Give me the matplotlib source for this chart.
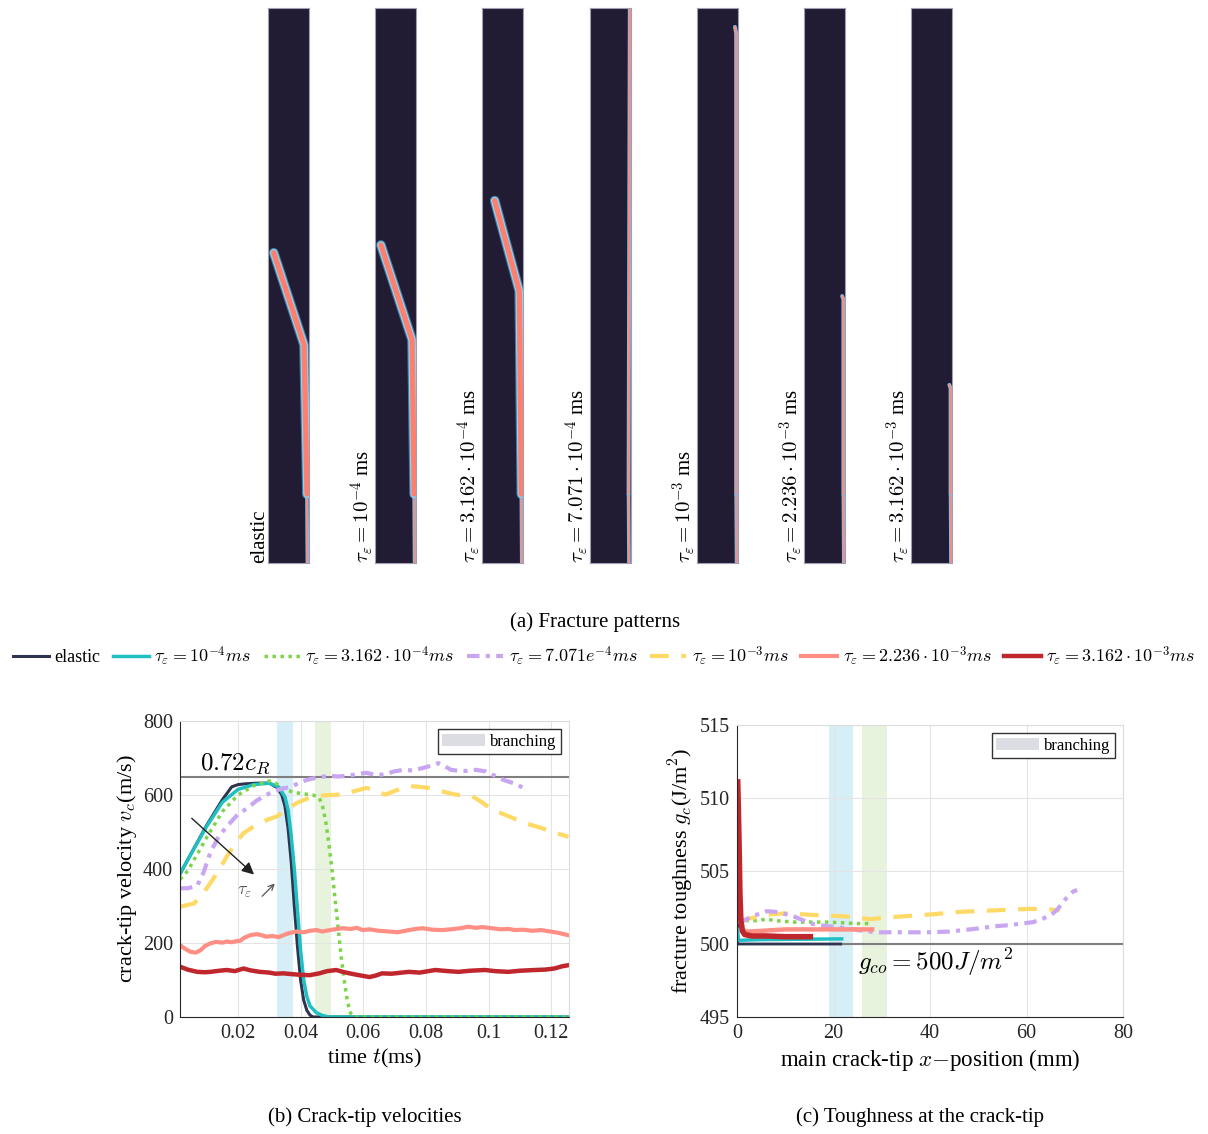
import matplotlib.pyplot as plt
from matplotlib.patches import Patch

plt.rcParams['font.family'] = 'serif'
plt.rcParams['font.serif'] = ['Liberation Serif', 'DejaVu Serif']
plt.rcParams['mathtext.fontset'] = 'cm'

# --- (a) fracture patterns: crack paths in strip-normalised coordinates ---
strip_labels = ['elastic',
                r'$\tau_\varepsilon = 10^{-4}$ ms',
                r'$\tau_\varepsilon = 3.162\cdot10^{-4}$ ms',
                r'$\tau_\varepsilon = 7.071\cdot10^{-4}$ ms',
                r'$\tau_\varepsilon = 10^{-3}$ ms',
                r'$\tau_\varepsilon = 2.236\cdot10^{-3}$ ms',
                r'$\tau_\varepsilon = 3.162\cdot10^{-3}$ ms']
crack_x = [[0.96, 0.95, 0.88, 0.14],
           [0.96, 0.95, 0.90, 0.14],
           [0.96, 0.95, 0.90, 0.30],
           [0.96, 0.95, 0.98],
           [0.97, 0.96, 0.96, 0.93],
           [0.97, 0.96, 0.96, 0.93],
           [0.97, 0.96, 0.96, 0.93]]
crack_y = [[0.0, 0.124, 0.393, 0.559],
           [0.0, 0.124, 0.402, 0.573],
           [0.0, 0.124, 0.490, 0.653],
           [0.0, 0.124, 1.0],
           [0.0, 0.124, 0.955, 0.966],
           [0.0, 0.124, 0.475, 0.481],
           [0.0, 0.124, 0.315, 0.321]]
branched = [True, True, True, False, False, False, False]

# --- series names / styles ---
series_labels = ['elastic',
                 r'$\tau_\varepsilon = 10^{-4}ms$',
                 r'$\tau_\varepsilon = 3.162\cdot10^{-4}ms$',
                 r'$\tau_\varepsilon = 7.071e^{-4}ms$',
                 r'$\tau_\varepsilon = 10^{-3}ms$',
                 r'$\tau_\varepsilon = 2.236\cdot10^{-3}ms$',
                 r'$\tau_\varepsilon = 3.162\cdot10^{-3}ms$']
colors = ['#2f3550', '#1fbfc4', '#7dd44a', '#c9a6f2', '#ffd966', '#ff8f85', '#c0272d']
styles = ['-', '-', (0, (1, 1.3)), (0, (3, 1.5, 1, 1.5)), (0, (4.5, 3)), '-', '-']
widths_b = [2.2, 2.5, 2.5, 3.0, 3.0, 3.0, 3.2]
widths_c = [2.0, 2.5, 2.5, 3.0, 3.0, 3.2, 4.0]

# --- (b) crack-tip velocity vs time ---
t_el = [0.0015, 0.005, 0.01, 0.015, 0.018, 0.02, 0.022, 0.026, 0.030, 0.0325, 0.034, 0.035,
        0.036, 0.037, 0.038, 0.039, 0.040, 0.041, 0.042, 0.043, 0.044, 0.1255]
v_el = [386, 441, 518, 587, 622, 628, 630, 632, 632, 620, 600, 570,
        510, 420, 300, 190, 100, 45, 18, 5, 0, 0]
t_1 = [0.0015, 0.005, 0.01, 0.015, 0.02, 0.025, 0.03, 0.033, 0.035, 0.036, 0.037,
       0.038, 0.039, 0.040, 0.041, 0.042, 0.043, 0.045, 0.047, 0.049, 0.1255]
v_1 = [388, 440, 515, 580, 615, 628, 632, 622, 595, 560, 490,
       400, 290, 180, 100, 55, 30, 12, 4, 0, 0]
t_2 = [0.0015, 0.004, 0.007, 0.01, 0.015, 0.02, 0.025, 0.03, 0.032, 0.035, 0.038, 0.041,
       0.044, 0.046, 0.047, 0.048, 0.049, 0.050, 0.051, 0.052, 0.053, 0.054, 0.055,
       0.056, 0.057, 0.1255]
v_2 = [372, 395, 440, 485, 555, 600, 625, 638, 632, 615, 607, 603,
       600, 592, 570, 530, 470, 400, 320, 240, 160, 95, 40,
       10, 0, 0]
t_3 = [0.0015, 0.004, 0.007, 0.009, 0.0112, 0.014, 0.017, 0.0197, 0.023, 0.026, 0.029,
       0.032, 0.0345, 0.037, 0.040, 0.043, 0.046, 0.049, 0.052, 0.055, 0.058, 0.061,
       0.064, 0.067, 0.070, 0.073, 0.076, 0.079, 0.082, 0.084, 0.086, 0.088, 0.090,
       0.093, 0.096, 0.099, 0.102, 0.105, 0.108, 0.1115]
v_3 = [348, 348, 355, 390, 445, 490, 520, 545, 565, 585, 600,
       612, 618, 622, 635, 643, 648, 652, 650, 652, 656, 660,
       654, 656, 664, 668, 666, 673, 680, 686, 678, 668, 666,
       665, 668, 664, 652, 640, 632, 618]
t_4 = [0.0015, 0.006, 0.0085, 0.0112, 0.014, 0.0165, 0.019, 0.0218, 0.0245, 0.027,
       0.0297, 0.0324, 0.0355, 0.0387, 0.042, 0.045, 0.049, 0.0535, 0.057, 0.061,
       0.064, 0.067, 0.071, 0.0746, 0.078, 0.081, 0.085, 0.0894, 0.0947, 0.098,
       0.101, 0.1063, 0.1116, 0.1168, 0.1205, 0.1255]
v_4 = [298, 307, 330, 362, 398, 434, 468, 497, 512, 524,
       534, 542, 560, 578, 590, 597, 600, 601, 610, 619,
       612, 601, 614, 624, 622, 619, 610, 601, 597, 580,
       561, 543, 524, 511, 500, 487]
t_5 = [0.0015, 0.003, 0.0049, 0.0065, 0.008, 0.0095, 0.0112, 0.013, 0.015, 0.0165,
       0.018, 0.0195, 0.0207, 0.022, 0.0239, 0.026, 0.028, 0.029, 0.031, 0.033,
       0.0345, 0.036, 0.0387, 0.041, 0.043, 0.045, 0.047, 0.050, 0.0535, 0.056,
       0.058, 0.0598, 0.062, 0.065, 0.0683, 0.071, 0.074, 0.0767, 0.079, 0.082,
       0.0852, 0.088, 0.091, 0.0936, 0.096, 0.098, 0.101, 0.104, 0.1065, 0.1084,
       0.111, 0.114, 0.1168, 0.119, 0.122, 0.1255]
v_5 = [194, 185, 176, 174, 180, 192, 199, 203, 201, 204,
       202, 205, 206, 214, 221, 224, 220, 217, 219, 216,
       221, 226, 231, 229, 233, 235, 231, 236, 240, 238,
       241, 235, 237, 233, 231, 229, 234, 238, 240, 236,
       235, 237, 240, 244, 241, 243, 240, 237, 238, 235,
       236, 233, 235, 232, 228, 221]
t_6 = [0.0015, 0.004, 0.007, 0.0095, 0.0112, 0.014, 0.0165, 0.019, 0.0218, 0.024,
       0.027, 0.030, 0.032, 0.0345, 0.037, 0.040, 0.0429, 0.046, 0.0485, 0.0514,
       0.0535, 0.0556, 0.058, 0.062, 0.064, 0.066, 0.069, 0.0746, 0.078, 0.083,
       0.087, 0.0904, 0.094, 0.0989, 0.102, 0.1063, 0.110, 0.1147, 0.118, 0.121,
       0.1235, 0.1255]
v_6 = [136, 128, 122, 121, 122, 125, 127, 124, 131, 126,
       122, 120, 117, 118, 116, 114, 113, 118, 124, 127,
       122, 118, 114, 108, 112, 118, 117, 122, 120, 127,
       124, 122, 125, 127, 124, 122, 125, 127, 128, 131,
       137, 140]
times = [t_el, t_1, t_2, t_3, t_4, t_5, t_6]
velocities = [v_el, v_1, v_2, v_3, v_4, v_5, v_6]
v_ref = 650            # 0.72 c_R
t_branch = [(0.0324, 0.0375), (0.0446, 0.0497)]

# --- (c) toughness at the crack tip vs crack-tip position ---
x_el = [0.05, 0.15, 21.5]
g_el = [504.5, 500.0, 500.0]
x_1 = [0.1, 0.3, 5, 21.7]
g_1 = [501.0, 500.25, 500.3, 500.35]
x_2 = [0.3, 2, 4, 6.2, 8, 11.7, 15, 18.6, 22, 25, 27.6]
g_2 = [501.9, 501.6, 501.6, 501.7, 501.6, 501.5, 501.5, 501.5, 501.45, 501.4, 501.4]
x_3 = [0.3, 2, 4, 6.2, 8, 10, 11.7, 13.5, 15.2, 18, 22.1, 25, 29, 34, 39.3, 44, 49.7,
       53, 56.6, 59, 61.4, 63.5, 65.5, 66.5, 67.6, 68.7, 69.7, 70.5]
g_3 = [501.4, 501.7, 502.0, 502.25, 502.2, 502.05, 501.9, 501.65, 501.4, 501.25, 501.1,
       500.95, 500.8, 500.8, 500.8, 500.85, 501.05, 501.2, 501.3, 501.4, 501.5, 501.75,
       502.1, 502.4, 502.9, 503.3, 503.6, 503.7]
x_4 = [0.3, 2, 4.8, 7.5, 10.3, 15.2, 22.1, 27.6, 32.4, 39.3, 46.2, 53.1, 60, 64, 66.9]
g_4 = [501.5, 501.7, 501.9, 502.05, 502.1, 502.0, 501.9, 501.7, 501.85, 502.0, 502.2,
       502.3, 502.4, 502.4, 502.3]
x_5 = [0.3, 0.5, 0.8, 1.2, 2, 5, 10, 15, 20, 28]
g_5 = [507.5, 504.0, 501.8, 501.0, 500.85, 500.9, 501.0, 501.0, 501.0, 501.0]
x_6 = [0.15, 0.3, 0.45, 0.6, 0.8, 1.1, 1.6, 3, 6, 10, 15.2]
g_6 = [511.1, 509.0, 506.5, 503.5, 501.6, 500.9, 500.65, 500.55, 500.55, 500.5, 500.5]
positions = [x_el, x_1, x_2, x_3, x_4, x_5, x_6]
toughness = [g_el, g_1, g_2, g_3, g_4, g_5, g_6]
g_ref = 500
x_branch = [(19.0, 24.0), (26.0, 31.0)]

band_colors = ['#d6eef6', '#e7f3dd']
W, H = 1208, 1134

fig = plt.figure(figsize=(W / 100, H / 100), dpi=100)

# strips of panel (a)
for i in range(7):
    left = 268 + 107.2 * i
    ax = fig.add_axes([left / W, 1 - 563 / H, 41 / W, 555 / H])
    ax.set_facecolor('#211b33')
    ax.set_xlim(0, 1)
    ax.set_ylim(0, 1)
    ax.set_xticks([])
    ax.set_yticks([])
    for s in ax.spines.values():
        s.set_color('#a09eb0')
        s.set_linewidth(0.8)
    cx, cy = crack_x[i], crack_y[i]
    # lower straight part along the edge
    ax.plot(cx[:2], cy[:2], color='#6cc6f2', lw=2.6, solid_capstyle='butt')
    ax.plot(cx[:2], cy[:2], color='#ff8a7a', lw=1.4, solid_capstyle='butt')
    if branched[i]:
        ax.plot(cx[1:], cy[1:], color='#5fb8e8', lw=7.0, alpha=0.6, solid_capstyle='round')
        ax.plot(cx[1:], cy[1:], color='#8ed8f6', lw=5.4, solid_capstyle='round')
        ax.plot(cx[1:], cy[1:], color='#ff7f6e', lw=3.8, solid_capstyle='round')
    else:
        ax.plot(cx[1:], cy[1:], color='#6cc6f2', lw=2.8, solid_capstyle='round')
        ax.plot(cx[1:], cy[1:], color='#ff8a7a', lw=1.6, solid_capstyle='round')
    fig.text((left + 1) / W, 1 - 563 / H, strip_labels[i], rotation=90,
             rotation_mode='anchor', ha='left', va='bottom', fontsize=15)

fig.text(595 / W, 1 - 622 / H, '(a) Fracture patterns', ha='center', va='center', fontsize=15)

# panel (b)
axb = fig.add_axes([180 / W, 1 - 1017 / H, 389 / W, 296 / H])
for (a, b), c in zip(t_branch, band_colors):
    axb.axvspan(a, b, color=c, lw=0, zorder=0.5)
axb.axhline(v_ref, color='#7f7f7f', lw=1.5, zorder=1)
lines = []
for k in range(7):
    ln, = axb.plot(times[k], velocities[k], color=colors[k], ls=styles[k],
                   lw=widths_b[k], label=series_labels[k], zorder=2)
    lines.append(ln)
axb.set_xlim(0.0015, 0.1257)
axb.set_ylim(0, 800)
axb.set_xticks([0.02, 0.04, 0.06, 0.08, 0.1, 0.12])
axb.set_xticklabels(['0.02', '0.04', '0.06', '0.08', '0.1', '0.12'])
axb.set_yticks([0, 200, 400, 600, 800])
axb.set_xlabel(r'time $t$(ms)', fontsize=16, labelpad=3)
axb.set_ylabel(r'crack-tip velocity $v_c$(m/s)', fontsize=16, labelpad=3)
axb.text(0.0078, 667, r'$0.72c_R$', fontsize=18)
axb.annotate('', xy=(0.0258, 380), xytext=(0.0046, 542),
             arrowprops=dict(arrowstyle='-|>', color='#222222', lw=1.0, mutation_scale=18))
axb.annotate('', xy=(0.0324, 366), xytext=(0.0271, 321),
             arrowprops=dict(arrowstyle='->', color='#555555', lw=0.9, mutation_scale=10))
axb.text(0.0223, 339, r'$\tau_\varepsilon$', fontsize=13, color='#555555', ha='center', va='center')

# panel (c)
axc = fig.add_axes([737 / W, 1 - 1017 / H, 386 / W, 292 / H])
for (a, b), c in zip(x_branch, band_colors):
    axc.axvspan(a, b, color=c, lw=0, zorder=0.5)
axc.axhline(g_ref, color='#7f7f7f', lw=1.5, zorder=1)
for k in [0, 1, 2, 4, 3, 5, 6]:
    axc.plot(positions[k], toughness[k], color=colors[k], ls=styles[k], lw=widths_c[k], zorder=2)
axc.set_xlim(0, 80)
axc.set_ylim(495, 515)
axc.set_xticks([0, 20, 40, 60, 80])
axc.set_yticks([495, 500, 505, 510, 515])
axc.set_xlabel(r'main crack-tip $x{-}$position (mm)', fontsize=16.5, labelpad=3)
axc.set_ylabel(r'fracture toughness $g_c$(J/m$^2$)', fontsize=16, labelpad=3)
axc.text(25, 498.2, r'$g_{co}=500J/m^2$', fontsize=18)

for ax in (axb, axc):
    ax.grid(True, color='#e4e4e4', lw=0.8, zorder=0)
    ax.set_axisbelow(True)
    ax.tick_params(labelsize=14.5, length=0, colors='#262626', pad=5)
    for side in ('left', 'bottom'):
        ax.spines[side].set_color('#262626')
    for side in ('top', 'right'):
        ax.spines[side].set_color('#dcdcdc')
    ax.legend(handles=[Patch(facecolor='#dcdce3', edgecolor='none', label='branching')],
              loc='upper right', fontsize=12, fancybox=False, edgecolor='#333333',
              framealpha=1, borderpad=0.25, handlelength=2.6, handletextpad=0.3,
              borderaxespad=0.5)

fig.text(365 / W, 1 - 1117 / H, '(b) Crack-tip velocities', ha='center', va='center', fontsize=15)
fig.text(920 / W, 1 - 1117 / H, '(c) Toughness at the crack-tip', ha='center', va='center', fontsize=15)

fig.legend(handles=lines, labels=series_labels, loc='center', bbox_to_anchor=(0.5, 1 - 656 / H),
           ncol=7, frameon=False, fontsize=13, handlelength=2.0, handletextpad=0.3,
           columnspacing=0.7)

fig.savefig('out.png', dpi=100)
